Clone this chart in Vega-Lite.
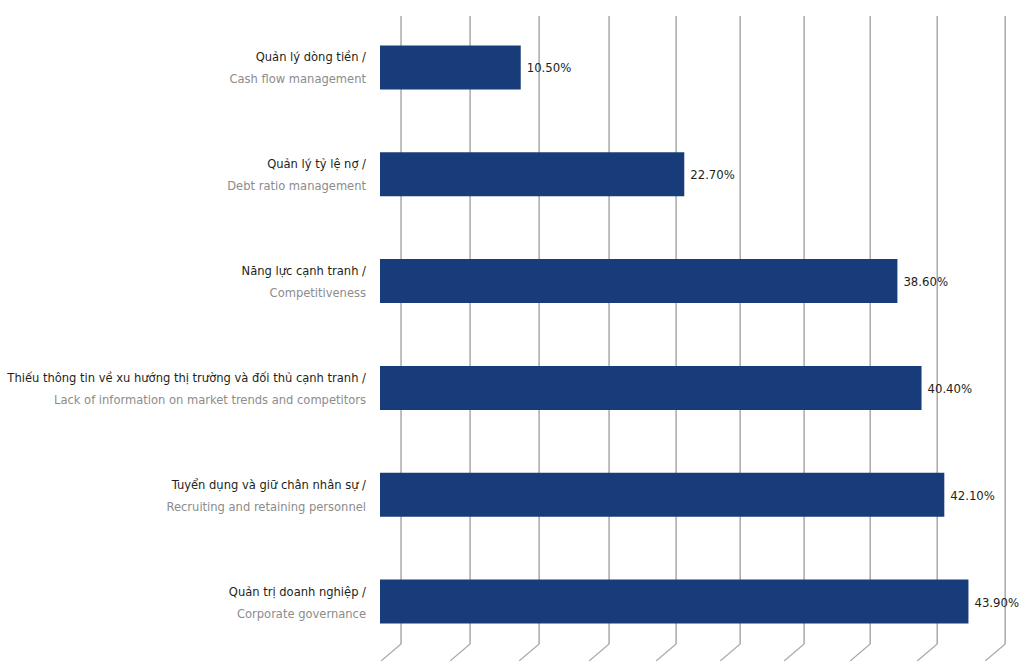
{
  "$schema": "https://vega.github.io/schema/vega-lite/v6.json",
  "width": 630,
  "height": 630,
  "autosize": "none",
  "padding": {"left": 380, "top": 14, "right": 11, "bottom": 17},
  "background": "white",
  "config": {"view": {"stroke": null}, "font": "DejaVu Sans Condensed, Liberation Sans Narrow, Roboto"},
  "datasets": {
    "items": [
      {"vi": "Quản lý dòng tiền /", "en": "Cash flow management", "value": 10.5, "label": "10.50%"},
      {"vi": "Quản lý tỷ lệ nợ /", "en": "Debt ratio management", "value": 22.7, "label": "22.70%"},
      {"vi": "Năng lực cạnh tranh /", "en": "Competitiveness", "value": 38.6, "label": "38.60%"},
      {"vi": "Thiếu thông tin về xu hướng thị trường và đối thủ cạnh tranh /", "en": "Lack of information on market trends and competitors", "value": 40.4, "label": "40.40%"},
      {"vi": "Tuyển dụng và giữ chân nhân sự /", "en": "Recruiting and retaining personnel", "value": 42.1, "label": "42.10%"},
      {"vi": "Quản trị doanh nghiệp /", "en": "Corporate governance", "value": 43.9, "label": "43.90%"}
    ],
    "grid": [
      {"g": 1.57}, {"g": 6.72}, {"g": 11.87}, {"g": 17.09}, {"g": 22.09},
      {"g": 26.87}, {"g": 31.64}, {"g": 36.57}, {"g": 41.57}, {"g": 46.64}
    ]
  },
  "layer": [
    {
      "data": {"name": "grid"},
      "mark": {"type": "rule", "color": "#a9a9a9", "strokeWidth": 1.5},
      "encoding": {
        "x": {"field": "g", "type": "quantitative", "scale": {"domain": [0, 47], "nice": false, "zero": true}, "axis": null},
        "y": {"value": 2},
        "y2": {"value": "height"}
      }
    },
    {
      "data": {"name": "grid"},
      "mark": {"type": "rule", "color": "#a9a9a9", "strokeWidth": 1.2, "x2Offset": -20, "y2Offset": 17},
      "encoding": {
        "x": {"field": "g", "type": "quantitative"},
        "x2": {"field": "g"},
        "y": {"value": "height"},
        "y2": {"value": "height"}
      }
    },
    {
      "data": {"name": "items"},
      "mark": {"type": "bar", "color": "#173c79"},
      "encoding": {
        "x": {"field": "value", "type": "quantitative"},
        "y": {"field": "en", "type": "nominal", "sort": null, "scale": {"range": [0, 641], "paddingInner": 0.588, "paddingOuter": 0.294}, "axis": null}
      }
    },
    {
      "data": {"name": "items"},
      "mark": {"type": "text", "align": "left", "baseline": "middle", "dx": 6, "dy": 1, "fontSize": 13, "color": "#231f20"},
      "encoding": {
        "x": {"field": "value", "type": "quantitative"},
        "y": {"field": "en", "type": "nominal", "sort": null},
        "text": {"field": "label"}
      }
    },
    {
      "data": {"name": "items"},
      "mark": {"type": "text", "align": "right", "baseline": "middle", "dx": -14, "dy": -10, "fontSize": 12.8, "color": "#231f20"},
      "encoding": {
        "x": {"datum": 0, "type": "quantitative"},
        "y": {"field": "en", "type": "nominal", "sort": null},
        "text": {"field": "vi"}
      }
    },
    {
      "data": {"name": "items"},
      "mark": {"type": "text", "align": "right", "baseline": "middle", "dx": -14, "dy": 12, "fontSize": 12.8, "color": "#8c8c8c"},
      "encoding": {
        "x": {"datum": 0, "type": "quantitative"},
        "y": {"field": "en", "type": "nominal", "sort": null},
        "text": {"field": "en"}
      }
    }
  ]
}
